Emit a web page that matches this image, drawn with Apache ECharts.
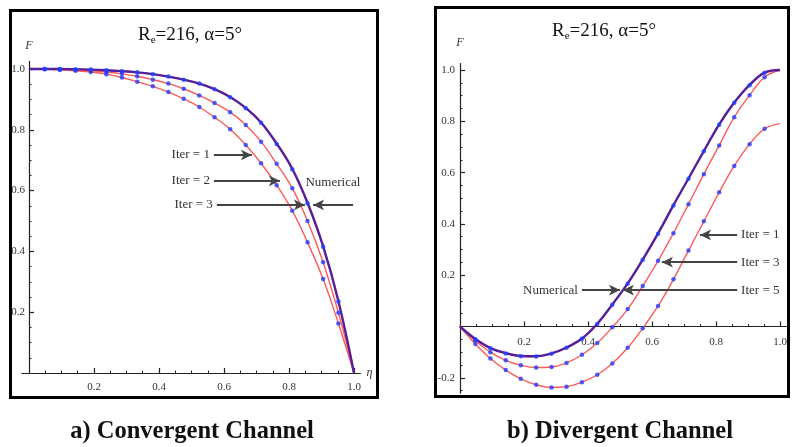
<!DOCTYPE html>
<html>
<head>
<meta charset="utf-8">
<title>Jeffery-Hamel flow - convergent / divergent channel</title>
<script src="https://cdn.jsdelivr.net/npm/echarts@6.0.0/dist/echarts.min.js"></script>
<style>
  html, body { margin: 0; padding: 0; background: #fff; }
  #chart { width: 792px; height: 447px; }
</style>
</head>
<body>
<div id="chart"></div>
<script>
// ------------------------------
// Data
// ------------------------------

// eta positions of the plotted points
var etaPts = [0, 0.048, 0.095, 0.143, 0.190, 0.238, 0.286, 0.333, 0.381, 0.429, 0.476,
              0.524, 0.571, 0.619, 0.667, 0.714, 0.762, 0.810, 0.857, 0.905, 0.952, 1.0];

// a) convergent channel
var convIter1 = [1.0, 0.999, 0.997, 0.994, 0.990, 0.983, 0.972, 0.958, 0.943, 0.924, 0.902,
                 0.875, 0.841, 0.802, 0.750, 0.690, 0.618, 0.534, 0.430, 0.309, 0.163, 0];
var convIter2 = [1.0, 1.0, 0.999, 0.997, 0.994, 0.990, 0.984, 0.976, 0.965, 0.952, 0.935,
                 0.913, 0.888, 0.858, 0.816, 0.761, 0.688, 0.608, 0.500, 0.364, 0.198, 0];
var convIter3 = [1.0, 1.0, 1.0, 0.999, 0.998, 0.996, 0.993, 0.989, 0.983, 0.975, 0.965,
                 0.952, 0.933, 0.907, 0.871, 0.823, 0.753, 0.670, 0.558, 0.415, 0.235, 0];
var convNumerical = [1.0, 1.0, 1.0, 0.999, 0.998, 0.996, 0.993, 0.989, 0.983, 0.975, 0.965,
                     0.952, 0.934, 0.908, 0.872, 0.824, 0.755, 0.672, 0.560, 0.417, 0.237, 0];

// b) divergent channel
var divIter1 = [0, -0.068, -0.125, -0.170, -0.204, -0.227, -0.238, -0.235, -0.217, -0.188, -0.144,
                -0.083, -0.007, 0.080, 0.184, 0.296, 0.410, 0.523, 0.626, 0.711, 0.771, 0.791];
var divIter3 = [0, -0.055, -0.100, -0.132, -0.151, -0.160, -0.158, -0.142, -0.110, -0.064, -0.003,
                0.068, 0.158, 0.256, 0.364, 0.477, 0.594, 0.706, 0.816, 0.902, 0.972, 1.0];
var divIter5 = [0, -0.050, -0.085, -0.105, -0.116, -0.117, -0.106, -0.083, -0.048, 0.010, 0.085,
                0.167, 0.260, 0.362, 0.472, 0.576, 0.683, 0.787, 0.872, 0.941, 0.989, 1.0];
var divNumerical = [0, -0.049, -0.084, -0.104, -0.115, -0.116, -0.105, -0.082, -0.047, 0.011, 0.086,
                    0.168, 0.261, 0.363, 0.473, 0.577, 0.684, 0.788, 0.873, 0.942, 0.990, 1.0];

// tick labels
var etaTicks = [0.2, 0.4, 0.6, 0.8, 1.0];
var convFTicks = [0.2, 0.4, 0.6, 0.8, 1.0];
var divFTicks = [-0.2, 0.2, 0.4, 0.6, 0.8, 1.0];

// texts
var panelTitle = 'R{sub|e}=216, α=5°';
var captions = ['a) Convergent Channel', 'b) Divergent Channel'];


// ------------------------------
// Layout
// ------------------------------

var SERIF = '"Liberation Serif", "DejaVu Serif", serif';
var RED = '#ff5a5a';
var PURPLE = '#55209c';
var BLUE = '#1f3dff';
var AXIS = '#222';

// axis ranges (a bit of overhang past the last tick, like the original)
var convX = [-0.022, 1.02], convY = [0, 1.025];
var divX = [0, 1.025], divY = [-0.26, 1.025];

var gridA = { left: 21.85, top: 61.4, width: 338.65, height: 311.6 };
var gridB = { left: 460, top: 63.6, width: 328, height: 329.6 };

// shift an axis from the grid edge onto the zero of the crossing axis
var zeroShift = function(range, size) {
    return -(0 - range[0]) / (range[1] - range[0]) * size;
};
var convYOffset = zeroShift(convX, gridA.width);
var divXOffset = zeroShift(divY, gridB.height);


// ------------------------------
// Helpers
// ------------------------------

var pairs = function(ys) {
    return etaPts.map(function(x, i) { return [x, ys[i]]; });
};

// minor tick positions every 0.05
var minorTicks = function(range) {
    var out = [];
    for (var v = Math.ceil(range[0] / 0.05 - 1e-9) * 0.05; v <= range[1] + 1e-9; v += 0.05) {
        out.push(+v.toFixed(3));
    }
    return out;
};

var fmt = function(v) { return (+v).toFixed(1); };

var mainAxis = function(grid, range, ticks, pos, offset, margin, name, nameGap) {
    return {
        type: 'value', gridIndex: grid, min: range[0], max: range[1], position: pos, offset: offset,
        axisLine: { onZero: false, lineStyle: { color: AXIS, width: 1.2 } },
        axisTick: { inside: true, length: 5, customValues: ticks, lineStyle: { color: AXIS, width: 1.2 } },
        axisLabel: { customValues: ticks, formatter: fmt, margin: margin,
                     fontFamily: SERIF, fontSize: 11, color: '#333' },
        splitLine: { show: false },
        name: name, nameLocation: 'end', nameGap: nameGap,
        nameTextStyle: { fontFamily: SERIF, fontStyle: 'italic', fontSize: 12, color: '#333' }
    };
};

var minorAxis = function(grid, range, pos, offset) {
    return {
        type: 'value', gridIndex: grid, min: range[0], max: range[1], position: pos, offset: offset,
        axisLine: { show: false, onZero: false },
        axisTick: { inside: true, length: 2.5, customValues: minorTicks(range), lineStyle: { color: AXIS } },
        axisLabel: { show: false },
        splitLine: { show: false }
    };
};

var iterLine = function(name, grid, ys) {
    return {
        name: name, type: 'line', xAxisIndex: grid, yAxisIndex: grid,
        data: pairs(ys), smooth: 0.4, showSymbol: false,
        lineStyle: { color: RED, width: 1.4 }, z: 2, silent: true
    };
};

var iterDots = function(name, grid, ys) {
    return {
        name: name + ' pts', type: 'scatter', xAxisIndex: grid, yAxisIndex: grid,
        data: pairs(ys).slice(1, -1), symbolSize: 4.5,
        itemStyle: { color: BLUE }, z: 5, silent: true
    };
};

// arrow with its label beyond the start point
var arrow = function(text, x1, x2, y) {
    return [
        { coord: [x1, y], label: { show: text !== '', formatter: text, position: 'start', distance: 4,
                                   fontFamily: SERIF, fontSize: 13, color: '#333' } },
        { coord: [x2, y] }
    ];
};

var arrowStyle = function(list) {
    return {
        silent: true, animation: false,
        symbol: ['none', 'arrow'], symbolSize: [8, 11],
        lineStyle: { color: '#444', width: 1.8, type: 'solid' },
        data: list
    };
};

var numLine = function(grid, ys, marks) {
    return {
        name: 'Numerical', type: 'line', xAxisIndex: grid, yAxisIndex: grid,
        data: pairs(ys), smooth: 0.4, showSymbol: false,
        lineStyle: { color: PURPLE, width: 2.4 }, z: 3, silent: true,
        markLine: arrowStyle(marks)
    };
};


// ------------------------------
// Chart
// ------------------------------

var chart = echarts.init(document.getElementById('chart'), null, { renderer: 'canvas' });

var titleStyle = {
    fontFamily: SERIF, fontSize: 19, fontWeight: 'normal', color: '#111',
    rich: { sub: { fontFamily: SERIF, fontSize: 11, padding: [10, 0, 0, 0], color: '#111' } }
};

chart.setOption({
    animation: false,
    backgroundColor: '#fff',
    title: [
        { text: panelTitle, left: 185, top: 20, textAlign: 'center', textStyle: titleStyle },
        { text: panelTitle, left: 599, top: 16, textAlign: 'center', textStyle: titleStyle }
    ],
    grid: [gridA, gridB],
    xAxis: [
        mainAxis(0, convX, etaTicks, 'bottom', 0, 9, 'η', 6),
        mainAxis(1, divX, etaTicks, 'bottom', divXOffset, 10, '', 0),
        minorAxis(0, convX, 'bottom', 0),
        minorAxis(1, divX, 'bottom', divXOffset)
    ],
    yAxis: [
        mainAxis(0, convY, convFTicks, 'left', convYOffset, 4, 'F', 10),
        mainAxis(1, divY, divFTicks, 'left', 0, 5, 'F', 15),
        minorAxis(0, convY, 'left', convYOffset),
        minorAxis(1, divY, 'left', 0)
    ],
    series: [
        iterLine('Iter = 1', 0, convIter1),
        iterLine('Iter = 2', 0, convIter2),
        iterLine('Iter = 3', 0, convIter3),
        numLine(0, convNumerical, [
            arrow('Iter = 1', 0.569, 0.686, 0.717),
            arrow('Iter = 2', 0.569, 0.772, 0.632),
            arrow('Iter = 3', 0.578, 0.849, 0.553),
            arrow('', 0.997, 0.874, 0.553)
        ]),
        iterDots('Iter = 1', 0, convIter1),
        iterDots('Iter = 2', 0, convIter2),
        iterDots('Iter = 3', 0, convIter3),

        iterLine('Iter = 1', 1, divIter1),
        iterLine('Iter = 3', 1, divIter3),
        iterLine('Iter = 5', 1, divIter5),
        numLine(1, divNumerical, [
            arrow('Iter = 1', 0.866, 0.750, 0.357),
            arrow('Iter = 3', 0.866, 0.631, 0.251),
            arrow('Iter = 5', 0.866, 0.509, 0.142),
            arrow('Numerical', 0.381, 0.500, 0.142)
        ]),
        iterDots('Iter = 1', 1, divIter1),
        iterDots('Iter = 3', 1, divIter3),
        iterDots('Iter = 5', 1, divIter5)
    ]
});

// frames, captions and the free "Numerical" label of panel a
var numPos = chart.convertToPixel({ gridIndex: 0 }, [0.935, 0.625]);

chart.setOption({
    graphic: [
        { type: 'rect', shape: { x: 10.5, y: 10.5, width: 367, height: 387 },
          style: { fill: 'none', stroke: '#000', lineWidth: 3 }, z: 10 },
        { type: 'rect', shape: { x: 435.5, y: 7.5, width: 353, height: 389 },
          style: { fill: 'none', stroke: '#000', lineWidth: 3 }, z: 10 },
        { type: 'text', x: numPos[0], y: numPos[1],
          style: { text: 'Numerical', fontFamily: SERIF, fontSize: 13, fill: '#333',
                   align: 'center', verticalAlign: 'middle' } },
        { type: 'text', x: 192, y: 432,
          style: { text: captions[0], fontFamily: SERIF, fontSize: 24.5, fontWeight: 'bold', fill: '#111',
                   align: 'center', verticalAlign: 'middle' } },
        { type: 'text', x: 620, y: 432,
          style: { text: captions[1], fontFamily: SERIF, fontSize: 24.5, fontWeight: 'bold', fill: '#111',
                   align: 'center', verticalAlign: 'middle' } }
    ]
});
</script>
</body>
</html>
